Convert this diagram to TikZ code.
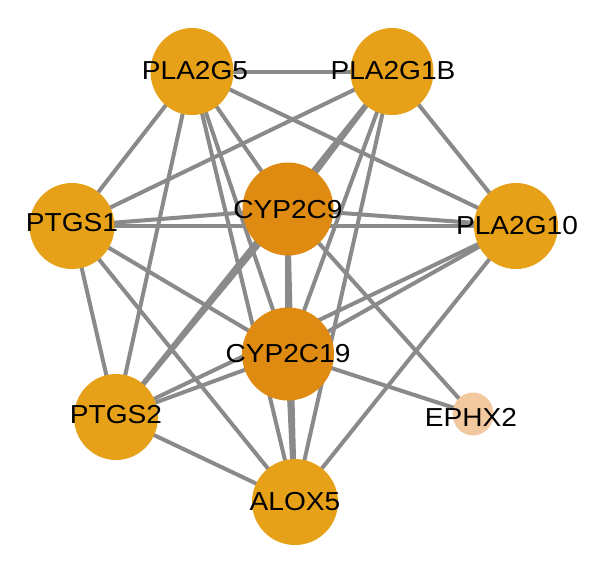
\documentclass[tikz,border=0pt]{standalone}
\usepackage{fontspec}
\setmainfont{Liberation Sans}
\usetikzlibrary{shapes.geometric}
\pgfdeclarelayer{background}
\pgfsetlayers{background,main}
\definecolor{gold}{RGB}{230,161,24}
\definecolor{deep}{RGB}{223,138,16}
\definecolor{peach}{RGB}{242,201,158}
\definecolor{edgegray}{RGB}{138,138,138}
\tikzset{
  gene/.style={ellipse, inner sep=0pt, draw=none, fill=gold},
  hub/.style={gene, fill=deep},
  faint/.style={gene, fill=peach},
  lab/.style={inner sep=0pt, font=\fontsize{26}{26}\selectfont, text=black},
  link/.style={draw=edgegray, line width=4pt},
  heavy/.style={draw=edgegray, line width=6pt}
}
\newcommand{\wide}[1]{\scalebox{1.08}[1]{#1}}
\begin{document}
\begin{tikzpicture}[x=1pt,y=-1pt]
\useasboundingbox (0,0) rectangle (600,574);
% nodes
\node[gene, minimum width=83pt, minimum height=87pt] (A) at (192,71.5) {};
\node[gene, minimum width=83pt, minimum height=87pt] (B) at (392,71.5) {};
\node[gene, minimum width=85pt, minimum height=86pt] (P1) at (72,226) {};
\node[hub, minimum width=91pt, minimum height=93pt] (C9) at (288,209) {};
\node[gene, minimum width=84pt, minimum height=86pt] (G10) at (516,226) {};
\node[hub, minimum width=92pt, minimum height=93pt] (C19) at (288,354) {};
\node[gene, minimum width=84pt, minimum height=86pt] (P2) at (116,417) {};
\node[faint, minimum width=41pt, minimum height=43pt] (E) at (473,414) {};
\node[gene, minimum width=86pt, minimum height=86pt] (X) at (295,502) {};
% labels
\node[lab] (Al) at (195,71) {\wide{PLA2G5}};
\node[lab] (Bl) at (393,71) {\wide{PLA2G1B}};
\node[lab] (P1l) at (72,223) {\wide{PTGS1}};
\node[lab] (C9l) at (288,210) {\wide{CYP2C9}};
\node[lab] (G10l) at (517,226) {\wide{PLA2G10}};
\node[lab] (C19l) at (288,354) {\wide{CYP2C19}};
\node[lab] (P2l) at (116,415) {\wide{PTGS2}};
\node[lab] (El) at (471,417) {\wide{EPHX2}};
\node[lab] (Xl) at (295,502) {\wide{ALOX5}};
% edges
\begin{pgfonlayer}{background}
\draw[link] (A.center) -- (B.center);
\draw[link] (A.center) -- (P1.center);
\draw[link] (A.center) -- (P2.center);
\draw[link] (A.center) -- (C9.center);
\draw[link] (A.center) -- (C19.center);
\draw[link] (A.center) -- (X.center);
\draw[link] (A.center) -- (G10.center);
\draw[link] (B.center) -- (P1.center);
\draw[link] (B.center) -- (G10.center);
\draw[link, line width=5pt] (B.center) -- (C9.center);
\draw[link] (B.center) -- (P2.center);
\draw[link] (B.center) -- (C19.center);
\draw[link] (B.center) -- (X.center);
\draw[link] (P1.center) -- (C9.center);
\draw[link] (P1.center) -- (G10.center);
\draw[link] (P1.center) -- (P2.center);
\draw[link] (P1.center) -- (C19.center);
\draw[link] (P1.center) -- (X.center);
\draw[link] (C9.center) -- (G10.center);
\draw[heavy] (C9.center) -- (C19.center);
\draw[link, line width=5pt] (C9.center) -- (P2.center);
\draw[link] (C9.center) -- (X.center);
\draw[link] (C9.center) -- (E.center);
\draw[link] (G10.center) -- (C19.center);
\draw[link] (G10.center) -- (P2.center);
\draw[link] (G10.center) -- (X.center);
\draw[link] (C19.center) -- (P2.center);
\draw[link] (C19.center) -- (E.center);
\draw[heavy] (C19.center) -- (X.center);
\draw[link] (P2.center) -- (X.center);
\end{pgfonlayer}
\end{tikzpicture}
\end{document}
